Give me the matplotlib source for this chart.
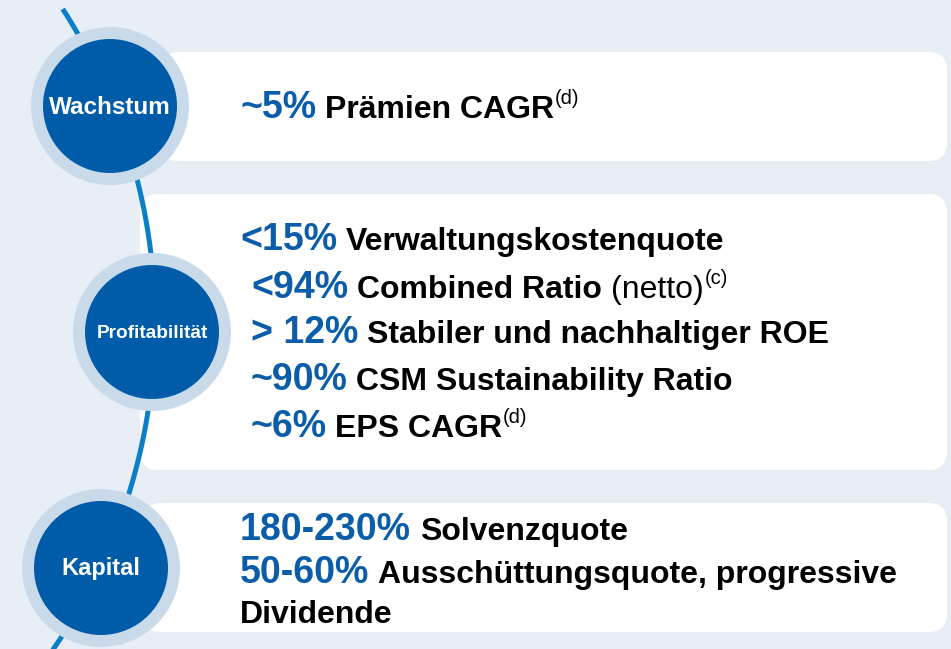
import numpy as np
import matplotlib
matplotlib.use('Agg')
import matplotlib.pyplot as plt
from matplotlib.patches import Circle, FancyBboxPatch

plt.rcParams['font.family'] = ['Liberation Sans', 'DejaVu Sans']

# content
categories = ['Wachstum', 'Profitabilität', 'Kapital']
category_sizes = [17.5, 13.7, 17]
targets = ['~5%', '<15%', '<94%', '> 12%', '~90%', '~6%', '180-230%', '50-60%']
descriptions = ['Prämien CAGR', 'Verwaltungskostenquote', 'Combined Ratio',
                'Stabiler und nachhaltiger ROE', 'CSM Sustainability Ratio',
                'EPS CAGR', 'Solvenzquote', 'Ausschüttungsquote, progressive']
extras = ['', '', '(netto)', '', '', '', '', '']
footnotes = ['(d)', '', '(c)', '', '', '(d)', '', '']
wrapped = 'Dividende'

# layout (pixels)
circle_xy = [(110, 106), (152, 332), (101, 568)]
panels = [(160, 52, 947, 161), (140, 194, 947, 470), (143, 503, 947, 632)]
line_x = [240, 240, 251, 251, 250, 250, 240, 240]
line_y = [118, 250, 298, 343, 390, 437, 540, 583]
wrap_y = 623

BG = '#E7EEF6'
DARK = '#005CA9'
RING = '#C9DAEA'
ARC = '#0A7EC6'
BLUE = '#0B5DAA'

W, H = 951, 649
fig = plt.figure(figsize=(W / 100, H / 100), dpi=100, facecolor=BG)
ax = fig.add_axes([0, 0, 1, 1])
ax.set_xlim(0, W)
ax.set_ylim(H, 0)
ax.set_facecolor(BG)
ax.axis('off')

# white panels
for x0, y0, x1, y1 in panels:
    ax.add_patch(FancyBboxPatch((x0, y0), x1 - x0, y1 - y0,
                                boxstyle='round,pad=0,rounding_size=18',
                                fc='white', ec='none', zorder=1))

# connecting arc
cx, cy, r = -422, 322, 577
ang = np.linspace(np.arctan2(9 - cy, 484.7), np.arctan2(340, 470), 200)
ax.plot(cx + r * np.cos(ang), cy + r * np.sin(ang), color=ARC, lw=3.6,
        solid_capstyle='butt', zorder=2)

# circles
for (x, y), name, fs in zip(circle_xy, categories, category_sizes):
    ax.add_patch(Circle((x, y), 79, fc=RING, ec='none', zorder=3))
    ax.add_patch(Circle((x, y), 67, fc=DARK, ec='none', zorder=4))
    ax.text(x, y + 1, name, color='white', fontsize=fs, fontweight='bold',
            ha='center', va='center', zorder=5)

fig.canvas.draw()
renderer = fig.canvas.get_renderer()


def put(x, y, s, **kw):
    t = ax.text(x, y, s, va='baseline', ha='left', zorder=5, **kw)
    bb = t.get_window_extent(renderer)
    return x + bb.width


for i in range(len(targets)):
    x = put(line_x[i], line_y[i], targets[i], color=BLUE, fontsize=27,
            fontweight='bold')
    x = put(x + 9, line_y[i], descriptions[i], color='black', fontsize=23,
            fontweight='bold')
    if extras[i]:
        x = put(x + 9, line_y[i], extras[i], color='black', fontsize=23)
    if footnotes[i]:
        put(x + 1, line_y[i] - 14, footnotes[i], color='black', fontsize=14.5)

put(line_x[-1], wrap_y, wrapped, color='black', fontsize=23, fontweight='bold')

fig.savefig('out.png', dpi=100, facecolor=BG)
